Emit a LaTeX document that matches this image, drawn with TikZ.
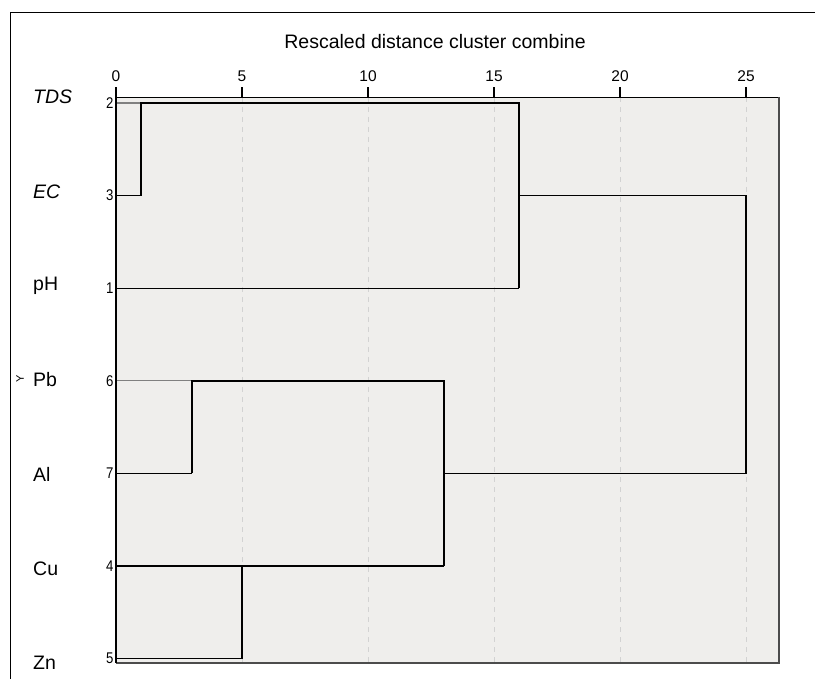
\documentclass[tikz,border=0pt]{standalone}
\usepackage{fontspec}
\setmainfont{Liberation Sans}
\usepackage{xcolor}
\definecolor{panel}{HTML}{EFEEEC}
\definecolor{gridgray}{HTML}{D2D2D2}
\tikzstyle{bline}=[black,line width=1.8pt]
\tikzstyle{tline}=[black,line width=1.1pt]
\tikzstyle{gleaf}=[gray,line width=1.4pt]
\tikzstyle{gline}=[gridgray,line width=0.9pt,dash pattern=on 5pt off 5pt]
\tikzstyle{lab}=[font=\fontsize{19.5}{22}\selectfont,inner sep=1pt]
\tikzstyle{num}=[font=\fontsize{15.5}{18}\selectfont,inner sep=1pt]
\def\xo{116}
\def\ux{25.2}
\def\top{97}
\def\bot{663}
\def\rgt{779}

\begin{document}
\begin{tikzpicture}[x=1pt,y=-1pt]
      \useasboundingbox (0,0) rectangle (815,679);
      
      % FRAME
      \draw[line width=0.9pt] (10,679) -- (10,12) -- (815,12);
      \fill[panel] (\xo,\top) rectangle (\rgt,\bot);
      \node[lab] (title) at (435,42) {Rescaled distance cluster combine};
      \node[rotate=90,font=\fontsize{11}{11}\selectfont,inner sep=0pt] (ylab) at (20,379) {Y};
      
      % AXIS
      \foreach \v in {0,5,...,25}{
        \draw[gline] ({\xo+\ux*\v},\top) -- ({\xo+\ux*\v},\bot);
        \draw[line width=1.1pt] ({\xo+\ux*\v},\top) -- ({\xo+\ux*\v},87);
        \node[num] (t\v) at ({\xo+\ux*\v},76) {\v};
      }
      
      % LEAVES
      \foreach \name/\k [count=\i from 0] in {{\itshape TDS}/2,{\itshape EC}/3,pH/1,Pb/6,Al/7,Cu/4,Zn/5}{
        \node[lab,anchor=west] (l\k) at (32,{97+94.3*\i}) {\name};
        \node[num,anchor=east,xscale=0.85] (n\k) at (114.5,{103+92.6*\i}) {\k};
        \coordinate (r\k) at (\xo,{103+92.6*\i});
      }
      
      % MERGE LEVELS
      \coordinate (m1) at ({\xo+\ux*1},0);
      \coordinate (m3) at ({\xo+\ux*3},0);
      \coordinate (m5) at ({\xo+\ux*5},0);
      \coordinate (m13) at ({\xo+\ux*13},0);
      \coordinate (m16) at ({\xo+\ux*16},0);
      \coordinate (m25) at ({\xo+\ux*25},0);
      
      % PLOT
      \draw[gleaf] (r2) -- (r2 -| m1);
      \draw[tline] (r3) -- (r3 -| m1);
      \draw[tline] (r1) -- (r1 -| m16);
      \draw[gleaf] (r6) -- (r6 -| m3);
      \draw[tline] (r7) -- (r7 -| m3);
      \draw[tline] (r4) -- (r4 -| m13);
      \draw[tline] (r5) -- (r5 -| m5);
      \draw[bline] (r3 -| m1) -- (r2 -| m1) -- (r2 -| m16) -- (r1 -| m16);
      \draw[bline] (r3 -| m16) -- (r3 -| m25) -- (r7 -| m25) -- (r7 -| m13);
      \draw[bline] (r7 -| m3) -- (r6 -| m3) -- (r6 -| m13) -- (r4 -| m13);
      \draw[bline] (r4 -| m5) -- (r5 -| m5);
      
      % BORDER
      \draw[line width=0.9pt] (\xo,\top) -- (\rgt,\top);
      \draw[black!70,line width=1.6pt] (\rgt,\top) -- (\rgt,\bot) -- (\xo,\bot);
      \draw[bline] (\xo,\top) -- (\xo,\bot);
      
    \end{tikzpicture}
\end{document}
